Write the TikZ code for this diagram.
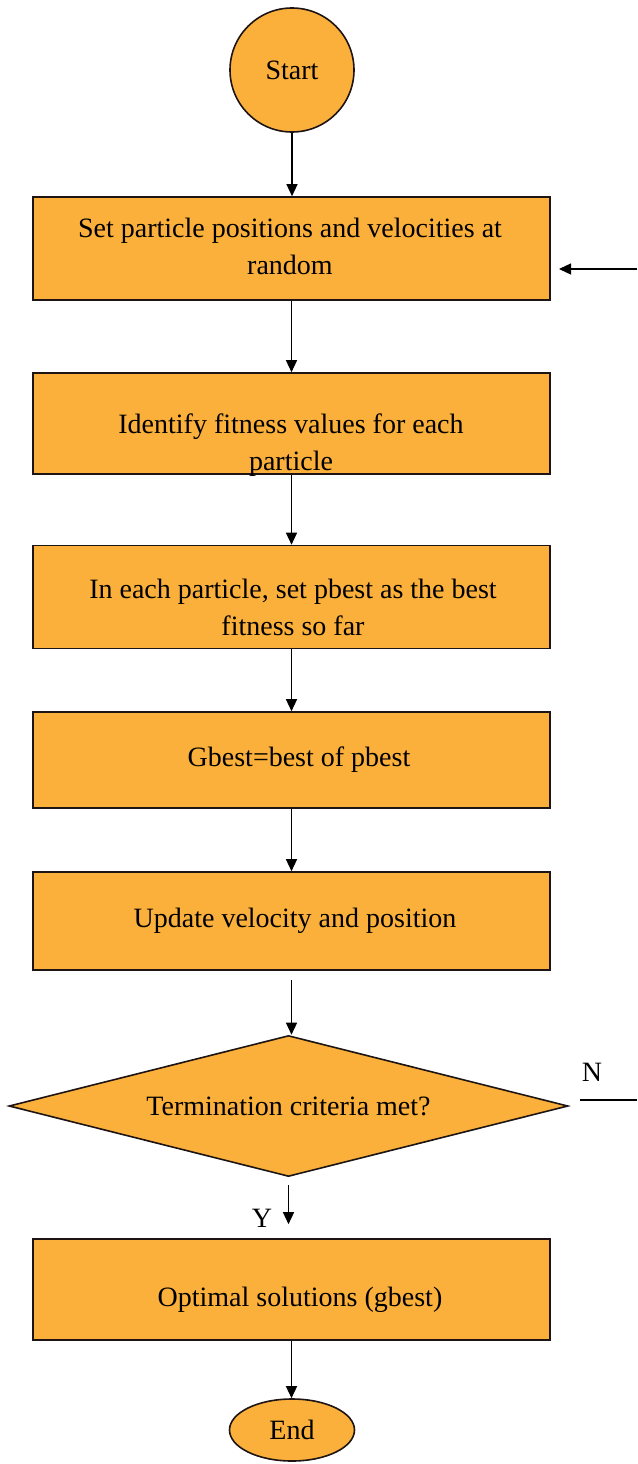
\documentclass[tikz,border=0pt]{standalone}
\usepackage{fontspec}
\setmainfont{Liberation Serif}
\usetikzlibrary{shapes.geometric,arrows.meta}
\definecolor{boxfill}{RGB}{251,176,59}
\definecolor{edgecol}{RGB}{30,20,20}
\begin{document}
\begin{tikzpicture}[x=1pt,y=-1pt,
  every node/.style={font=\fontsize{28}{37}\selectfont},
  shapecol/.style={draw=edgecol,fill=boxfill,line width=1.6pt,inner sep=0pt},
  procbox/.style={shapecol,minimum width=517pt},
  boxtext/.style={align=center,inner sep=0pt},
  arr/.style={line width=1.3pt,-{Triangle[length=12pt,width=11pt]}},
  plainline/.style={line width=1.3pt}]
\useasboundingbox (0,0) rectangle (637,1464);

\node[shapecol,circle,minimum size=124pt] (start) at (292,70) {Start};

\node[procbox,minimum height=103pt] (b1) at (291.5,248.5) {};
\node[boxtext] (t1) at (290,246) {Set particle positions and velocities at\\random};

\node[procbox,minimum height=101pt] (b2) at (291.5,423.5) {};
\node[boxtext] (t2) at (291,445) {Identify fitness values for each\\particle};

\node[procbox,minimum height=103pt] (b3) at (291.5,597) {};
\node[boxtext] (t3) at (293,607) {In each particle, set pbest as the best\\fitness so far};

\node[procbox,minimum height=96pt] (b4) at (291.5,760) {};
\node[boxtext] (t4) at (299,760) {Gbest=best of pbest};

\node[procbox,minimum height=98pt] (b5) at (291.5,921) {};
\node[boxtext] (t5) at (295,921) {Update velocity and position};

\node[shapecol,diamond,minimum width=559pt,minimum height=141pt,aspect=3.96] (dec) at (288.5,1106) {Termination criteria met?};

\node[procbox,minimum height=101pt] (b6) at (291.5,1289.5) {};
\node[boxtext] (t6) at (300,1300) {Optimal solutions (gbest)};

\node[shapecol,ellipse,minimum width=125pt,minimum height=62pt] (end) at (292,1430) {End};

\node[inner sep=0pt] (ylab) at (262,1218) {Y};
\node[inner sep=0pt] (nlab) at (592,1072) {N};

\coordinate (nA) at (580,1100);
\coordinate (nB) at (637,1100);
\coordinate (fA) at (637,269);
\coordinate (fB) at (559,269);

\draw[arr] (start.south) -- (start.south |- b1.north);
\draw[arr] (b1.south) -- (b2.north);
\draw[arr] (b2.south) -- (b3.north);
\draw[arr] (b3.south) -- (b4.north);
\draw[arr] (b4.south) -- (b5.north);
\draw[arr,shorten <=9pt] (b5.south) -- (b5.south |- dec.north);
\draw[arr,shorten <=8pt,shorten >=14pt] (dec.south) -- (dec.south |- b6.north);
\draw[arr] (b6.south) -- (b6.south |- end.north);
\draw[plainline] (nA) -- (nB);
\draw[arr] (fA) -- (fB);
\end{tikzpicture}
\end{document}
